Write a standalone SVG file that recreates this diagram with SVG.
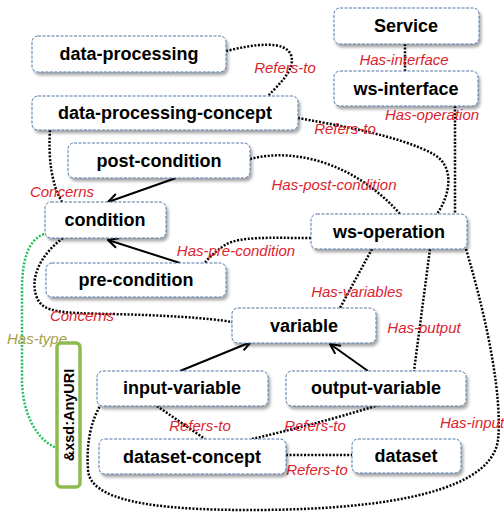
<svg xmlns="http://www.w3.org/2000/svg" width="504" height="512" viewBox="0 0 504 512">
<defs>
<filter id="sh" x="-10%" y="-20%" width="130%" height="160%">
<feDropShadow dx="2" dy="3" stdDeviation="1.5" flood-color="#000" flood-opacity="0.35"/>
</filter>
<marker id="ah" viewBox="0 0 12 12" refX="11" refY="6" markerWidth="12" markerHeight="12" markerUnits="userSpaceOnUse" orient="auto">
<path d="M1,1 L11,6 L1,11" fill="none" stroke="#000" stroke-width="2"/>
</marker>
</defs>
<style>
.box{fill:#fff;stroke:#4f76a6;stroke-width:1;stroke-dasharray:3 1.5;filter:url(#sh)}
.t{font-family:"Liberation Sans",Arial,sans-serif;font-weight:bold;font-size:18px;fill:#000;text-anchor:middle;dominant-baseline:central}
.lab{font-family:"Liberation Sans",Arial,sans-serif;font-style:italic;font-size:15px;fill:#dc2430;text-anchor:middle;dominant-baseline:central}
.dot{fill:none;stroke:#000;stroke-width:2.5;stroke-dasharray:2 1.6}
.gdot{fill:none;stroke:#22c055;stroke-width:2.5;stroke-dasharray:2 1.6}
.arr{fill:none;stroke:#000;stroke-width:2;marker-end:url(#ah)}
</style>
<rect width="504" height="512" fill="#fff"/>
<g id="connectors">
<path class="dot" d="M226,51 C255,44 285,40 291,55 C296,70 278,85 268,96"/>
<path class="dot" d="M298,118 C330,124 400,135 435,155 C455,168 450,195 437,214"/>
<path class="dot" d="M405,44 L405,71"/>
<path class="dot" d="M455,106 L455,214"/>
<path class="dot" d="M250,159 C300,146 360,168 400,214"/>
<path class="dot" d="M311,238 C270,238 240,236 225,245 C215,252 208,258 205,263"/>
<path class="dot" d="M372,249 L340,308"/>
<path class="dot" d="M430,249 L414,371"/>
<path class="dot" d="M466,249 C490,330 502,400 498,440 C490,500 350,510 250,510 C150,510 90,500 88,470 C86,440 92,420 100,406"/>
<path class="dot" d="M63,238 C40,255 28,280 38,300 C45,312 60,313 110,314 C160,315 210,318 232,322"/>
<path class="dot" d="M50,130 C48,160 52,185 62,202"/>
<path class="gdot" d="M44,234 C28,240 22,260 22,290 L22,380 C22,410 35,440 57,448"/>
<path class="dot" d="M157,406 L205,439"/>
<path class="dot" d="M379,405 C330,420 290,430 252,439"/>
<path class="dot" d="M286,455 L352,455"/>
<path class="arr" d="M176,178 L108,202"/>
<path class="arr" d="M180,263 L108,240"/>
<path class="arr" d="M180,371 L251,342"/>
<path class="arr" d="M368,371 L330,344"/>
<text class="lab" x="285" y="67">Refers-to</text>
<text class="lab" x="345" y="128">Refers-to</text>
<text class="lab" x="404" y="59">Has-interface</text>
<text class="lab" x="432" y="114">Has-operation</text>
<text class="lab" x="334" y="184">Has-post-condition</text>
<text class="lab" x="236" y="250">Has-pre-condition</text>
<text class="lab" x="357" y="291">Has-variables</text>
<text class="lab" x="424" y="327">Has-output</text>
<text class="lab" x="472" y="422">Has-input</text>
<text class="lab" x="62" y="191">Concerns</text>
<text class="lab" x="82" y="315">Concerns</text>
<text class="lab" x="37" y="338" style="fill:#a8a04a">Has-type</text>
<text class="lab" x="200" y="425">Refers-to</text>
<text class="lab" x="315" y="425">Refers-to</text>
<text class="lab" x="317" y="469">Refers-to</text>
</g>
<g id="service"><rect class="box" x="334" y="8" width="145" height="36" rx="6"/><text class="t" x="406" y="26">Service</text></g>
<g id="ws-interface"><rect class="box" x="334" y="71" width="144" height="35" rx="6"/><text class="t" x="406" y="89">ws-interface</text></g>
<g id="data-processing"><rect class="box" x="32" y="36" width="194" height="36" rx="6"/><text class="t" x="129" y="54">data-processing</text></g>
<g id="data-processing-concept"><rect class="box" x="32" y="96" width="266" height="34" rx="6"/><text class="t" x="165" y="113">data-processing-concept</text></g>
<g id="post-condition"><rect class="box" x="68" y="143" width="182" height="35" rx="6"/><text class="t" x="159" y="161">post-condition</text></g>
<g id="condition"><rect class="box" x="45" y="202" width="121" height="36" rx="6"/><text class="t" x="105" y="220">condition</text></g>
<g id="pre-condition"><rect class="box" x="46" y="263" width="180" height="34" rx="6"/><text class="t" x="136" y="280">pre-condition</text></g>
<g id="ws-operation"><rect class="box" x="311" y="214" width="156" height="35" rx="6"/><text class="t" x="389" y="232">ws-operation</text></g>
<g id="variable"><rect class="box" x="232" y="308" width="144" height="35" rx="6"/><text class="t" x="304" y="326">variable</text></g>
<g id="input-variable"><rect class="box" x="97" y="371" width="171" height="35" rx="6"/><text class="t" x="182" y="388">input-variable</text></g>
<g id="output-variable"><rect class="box" x="286" y="371" width="180" height="35" rx="6"/><text class="t" x="376" y="388">output-variable</text></g>
<g id="dataset-concept"><rect class="box" x="99" y="439" width="187" height="35" rx="6"/><text class="t" x="192" y="457">dataset-concept</text></g>
<g id="dataset"><rect class="box" x="352" y="439" width="109" height="34" rx="6"/><text class="t" x="406" y="456">dataset</text></g>
<g id="anyuri"><rect x="57" y="343" width="23" height="144" rx="4" fill="#fff" stroke="#8fba4e" stroke-width="3.5"/><text class="t" x="0" y="0" transform="translate(69,415) rotate(-90)" style="font-size:14.5px">&amp;xsd:AnyURI</text></g>
</svg>
